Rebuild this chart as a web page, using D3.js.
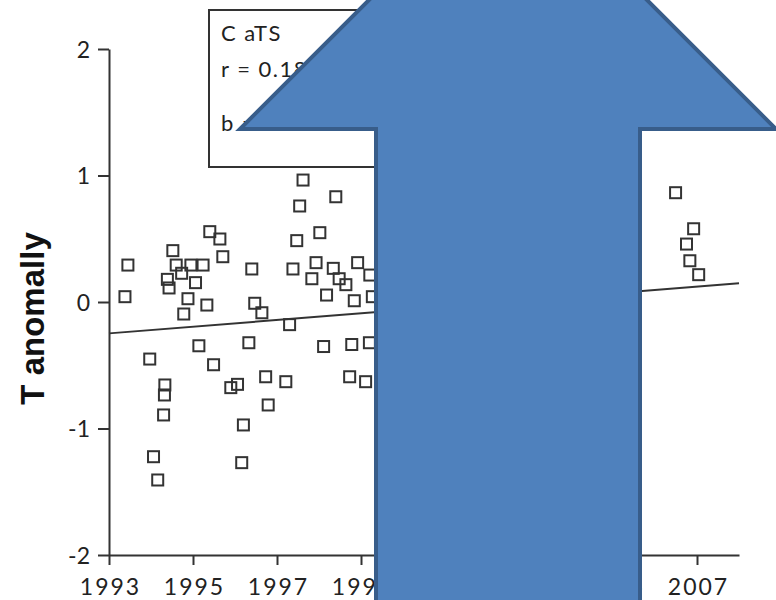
<!DOCTYPE html>
<html>
<head>
<meta charset="utf-8">
<script src="https://cdn.jsdelivr.net/npm/d3@7"></script>
<style>
  html, body { margin: 0; padding: 0; background: #fff; }
  svg { display: block; }
  .tick text, .legend text { font-family: Lato, "Open Sans", sans-serif; fill: #222; }
</style>
</head>
<body>
<svg id="chart" width="776" height="600"></svg>
<script>
// Monthly temperature anomalies (decimal year, anomaly)
const years = [
  1997.62, 1998.40, 1997.54, 1995.40, 1995.64, 1998.02, 1997.47, 1994.52, 1995.71, 1993.45,
  1994.60, 1994.95, 1995.24, 1997.93, 1998.92, 1996.40, 1997.38, 1998.34, 1994.73, 1994.39,
  1997.83, 1998.48, 1995.06, 1998.64, 1999.21, 1994.43, 1993.38, 1994.88, 1998.18, 1998.84,
  1999.27, 1995.33, 1996.47, 1996.64, 1994.78, 1997.30, 1995.14, 1996.33, 1998.11, 1998.78,
  1999.20, 1993.97, 1995.49, 1994.33, 1994.32, 1995.90, 1996.06, 1996.73, 1997.21, 1998.73,
  1999.11, 1994.30, 1996.79, 1996.20, 1994.06, 1996.16, 1994.16,
  2006.49, 2006.92, 2006.75, 2006.83, 2007.04
];
const anomalies = [
  0.964, 0.832, 0.759, 0.556, 0.498, 0.548, 0.485, 0.406, 0.358, 0.292,
  0.292, 0.292, 0.292, 0.311, 0.311, 0.261, 0.261, 0.266, 0.227, 0.179,
  0.184, 0.184, 0.153, 0.137, 0.213, 0.111, 0.042, 0.026, 0.055, 0.010,
  0.042, -0.024, -0.010, -0.085, -0.095, -0.179, -0.346, -0.322, -0.352, -0.336,
  -0.322, -0.451, -0.496, -0.656, -0.735, -0.677, -0.651, -0.591, -0.630, -0.591,
  -0.630, -0.893, -0.814, -0.972, -1.223, -1.270, -1.407,
  0.864, 0.579, 0.458, 0.326, 0.216
];

// Linear trend, given at the two ends of the time axis
const trendYears = [1993, 2008];
const trendValues = [-0.248, 0.148];

// Axis ticks
const xTicks = [1993, 1995, 1997, 1999, 2001, 2003, 2005, 2007];
const yTicks = [-2, -1, 0, 1, 2];

// Legend lines
const legendLines = ["C aTS", "r = 0.18", "b = 0.026"];

const svg = d3.select("#chart");
const ink = "#333";
const plain = d => String(d);   // hyphen-minus, no decimals

const x = d3.scaleLinear().domain([1993, 2008]).range([109, 739]);
const y = d3.scaleLinear().domain([-2, 2]).range([555, 49]);

// Axes
const xAxis = svg.append("g")
  .attr("transform", `translate(0,${y(-2)})`)
  .call(d3.axisBottom(x).tickValues(xTicks).tickFormat(plain)
    .tickSize(10).tickSizeOuter(0));
xAxis.selectAll("text")
  .attr("y", 40).attr("dy", 0).attr("dx", "1px")
  .style("font-size", "23px").style("letter-spacing", "2px");

const yAxis = svg.append("g")
  .attr("transform", `translate(${x(1993)},0)`)
  .call(d3.axisLeft(y).tickValues(yTicks).tickFormat(plain)
    .tickSize(11).tickSizeOuter(0).tickPadding(8));
yAxis.selectAll("text").style("font-size", "23px").attr("dy", "0.36em");

[xAxis, yAxis].forEach(g => {
  g.select(".domain").attr("stroke", ink).attr("stroke-width", 2);
  g.selectAll(".tick line").attr("stroke", ink).attr("stroke-width", 2);
  g.attr("font-family", null).attr("font-size", null);
});

// Y axis title
svg.append("text")
  .attr("transform", `translate(44,${(y(-0.13))}) rotate(-90)`)
  .attr("text-anchor", "middle")
  .style("font-family", "'Liberation Sans', Arial, sans-serif")
  .style("font-weight", "bold")
  .style("font-size", "33px")
  .attr("fill", "#111")
  .text("T anomally");

// Trend line
svg.append("line")
  .attr("x1", x(trendYears[0])).attr("y1", y(trendValues[0]))
  .attr("x2", x(trendYears[1])).attr("y2", y(trendValues[1]))
  .attr("stroke", ink).attr("stroke-width", 2);

// Data squares
const size = 11;
svg.append("g").selectAll("rect")
  .data(years.map((yr, i) => ({ yr, v: anomalies[i] })))
  .join("rect")
  .attr("x", d => x(d.yr) - size / 2)
  .attr("y", d => y(d.v) - size / 2)
  .attr("width", size).attr("height", size)
  .attr("fill", "none")
  .attr("stroke", ink)
  .attr("stroke-width", 2);

// Legend box
const legend = svg.append("g").attr("class", "legend");
legend.append("rect")
  .attr("x", 209).attr("y", 10).attr("width", 350).attr("height", 157)
  .attr("fill", "#fff").attr("stroke", ink).attr("stroke-width", 2);
legend.selectAll("text")
  .data(legendLines)
  .join("text")
  .attr("x", 221)
  .attr("y", (d, i) => [41, 77, 131][i])
  .style("font-size", "22px")
  .style("letter-spacing", "1.5px")
  .text(d => d);

// Block arrow overlay
const arrow = { cx: 508, tipY: -139, headY: 129, headHalf: 268, shaftHalf: 132, bottom: 640 };
const p = d3.path();
p.moveTo(arrow.cx, arrow.tipY);
p.lineTo(arrow.cx + arrow.headHalf, arrow.headY);
p.lineTo(arrow.cx + arrow.shaftHalf, arrow.headY);
p.lineTo(arrow.cx + arrow.shaftHalf, arrow.bottom);
p.lineTo(arrow.cx - arrow.shaftHalf, arrow.bottom);
p.lineTo(arrow.cx - arrow.shaftHalf, arrow.headY);
p.lineTo(arrow.cx - arrow.headHalf, arrow.headY);
p.closePath();
svg.append("path")
  .attr("d", p.toString())
  .attr("fill", "#4F81BD")
  .attr("stroke", "#385D8A")
  .attr("stroke-width", 4)
  .attr("stroke-linejoin", "miter");
</script>
</body>
</html>
